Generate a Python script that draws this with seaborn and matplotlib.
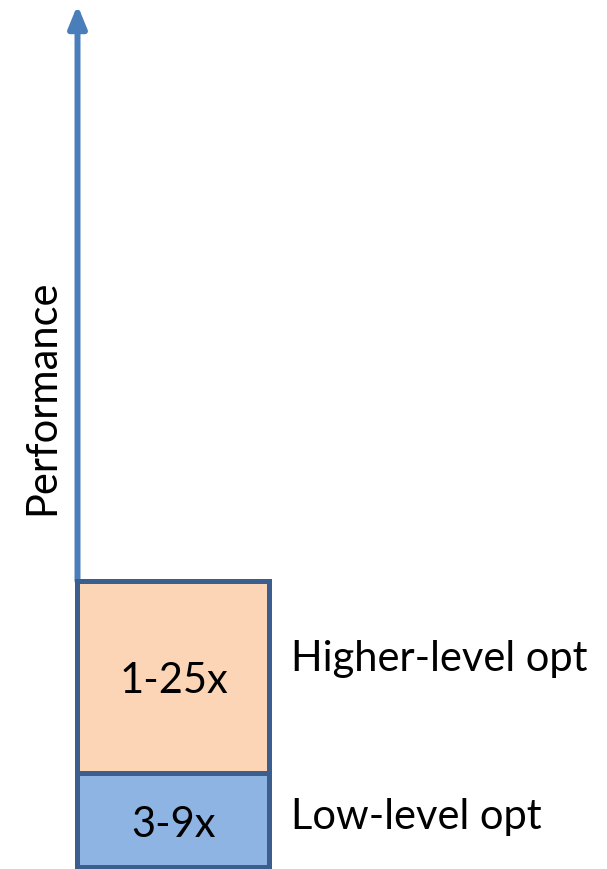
import matplotlib
matplotlib.use("Agg")
import matplotlib.pyplot as plt
import seaborn as sns
import pandas as pd

sns.set_theme(style="white")
plt.rcParams["font.family"] = ["Lato", "DejaVu Sans"]

# Stacked performance gains (segment heights, bottom to top)
segments = ["Low-level opt", "Higher-level opt"]
segment_heights = [94, 192]
segment_labels = ["3-9x", "1-25x"]
segment_colors = ["#8eb4e3", "#fbd5b5"]
axis_label = "Performance"
axis_top = 862

edge_color = "#3c5e8f"
arrow_color = "#4a7ebb"
font_size = 30

fig = plt.figure(figsize=(6.07, 8.69), dpi=100)
ax = fig.add_axes([0, 0, 1, 1])

# Draw cumulative totals from the top segment down so each sits on the one below
cum = []
total = 0
for h in segment_heights:
    total += h
    cum.append(total)

for i in reversed(range(len(segments))):
    df = pd.DataFrame({"stack": ["opt"], "value": [cum[i]]})
    sns.barplot(data=df, x="stack", y="value", color=segment_colors[i],
                width=1.0, saturation=1, edgecolor=edge_color, linewidth=3.6,
                ax=ax, zorder=3 + (len(segments) - i))

ax.set_xlim(-0.9036, 2.2578)
ax.set_ylim(-2, 867)
ax.set_axis_off()

# Performance arrow rising from the top of the stack
ax.annotate("", xy=(-0.5, axis_top), xytext=(-0.5, cum[-1]),
            arrowprops=dict(arrowstyle="-|>,head_length=1.1,head_width=0.45",
                            color=arrow_color, lw=4.3, shrinkA=0, shrinkB=0),
            zorder=2)

# Segment value labels (inside) and captions (to the right), on baselines
inner_offsets = [-17, -16]
side_offsets = [-9, 6]
for i, h in enumerate(segment_heights):
    mid = cum[i] - h / 2
    ax.text(0, mid + inner_offsets[i], segment_labels[i], ha="center",
            va="baseline", fontsize=font_size, color="black", zorder=10)
    ax.text(0.612, mid + side_offsets[i], segments[i], ha="left",
            va="baseline", fontsize=font_size, color="black")

ax.text(-0.622, 470, axis_label, rotation=90, rotation_mode="anchor",
        ha="center", va="baseline", fontsize=font_size, color="black")

fig.savefig("out.png", dpi=100)
